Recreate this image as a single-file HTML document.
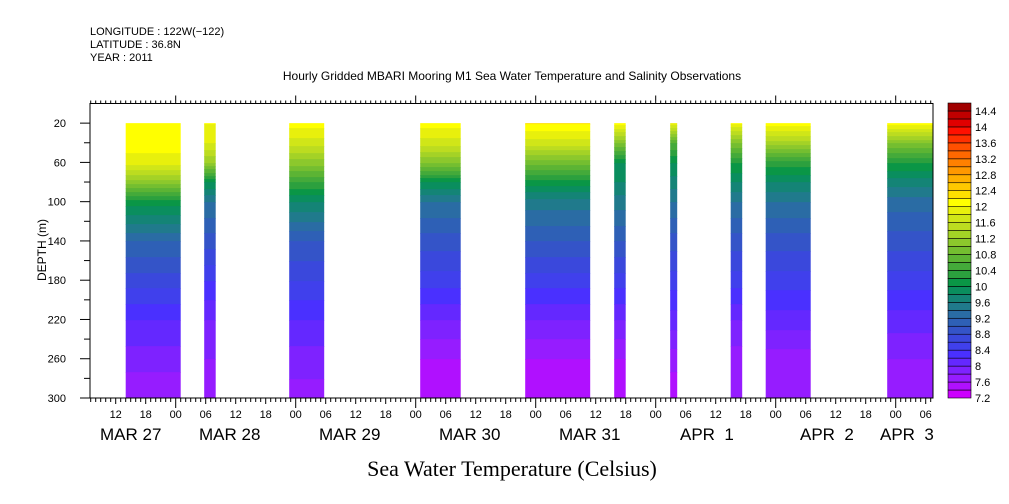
<!DOCTYPE html>
<html><head><meta charset="utf-8"><style>
body{margin:0;background:#fff;width:1009px;height:504px;overflow:hidden}
svg{display:block}
text{font-family:"Liberation Sans",sans-serif;fill:#000}
</style></head><body>
<svg id="chart" width="1009" height="504" xmlns="http://www.w3.org/2000/svg">
<text x="90" y="35" font-size="11">LONGITUDE : 122W(−122)</text>
<text x="90" y="48" font-size="11">LATITUDE : 36.8N</text>
<text x="90" y="61" font-size="11">YEAR : 2011</text>
<text x="512" y="80" font-size="12" text-anchor="middle">Hourly Gridded MBARI Mooring M1 Sea Water Temperature and Salinity Observations</text>
<text transform="translate(46,250) rotate(-90)" font-size="12" text-anchor="middle">DEPTH (m)</text>
<text x="512" y="476" font-size="22" text-anchor="middle" style="font-family:'Liberation Serif',serif">Sea Water Temperature (Celsius)</text>
<g id="plot"></g>
<g id="axes"></g>
<g id="cbar"></g>
</svg>
<script>
const depths=[20,40,60,80,100,140,180,220,260,300];
const blockStart=[14,29.7,46.7,72.9,93.9,111.7,122.9,135,142,166.3];
const blockEnd=[25,32,53.7,81,106.9,114,124.3,137.3,151,175.5];
const profiles=[
[12.1,12.1,11.9,11.1,10.1,9.2,8.7,8.2,7.9,7.6],
[12.0,11.8,11.2,10.0,9.4,8.9,8.4,8.0,7.8,7.6],
[12.1,11.7,11.1,10.4,9.8,9.0,8.6,8.2,7.9,7.7],
[12.1,11.7,11.0,10.0,9.4,8.9,8.5,8.0,7.6,7.4],
[12.2,11.7,10.9,10.1,9.5,9.0,8.5,8.0,7.6,7.4],
[12.1,11.0,10.0,9.8,9.5,9.0,8.5,8.0,7.6,7.4],
[11.9,10.6,10.0,9.7,9.4,8.9,8.5,8.1,7.7,7.4],
[12.0,11.0,10.2,9.8,9.4,8.9,8.5,8.0,7.7,7.6],
[12.1,11.3,10.3,9.8,9.4,8.9,8.5,8.1,7.7,7.6],
[12.1,11.0,10.2,9.7,9.3,8.9,8.5,8.1,7.8,7.6]];
const colors=["#cc00ff","#b010ff","#961cff","#7e22ff","#6428ff","#4a30ff","#4040ec","#3a48dc","#3454c8","#2e60b6","#2a6ca4","#207a8c","#148476","#0a8e5e","#0a9646","#2ca03e","#44aa3a","#5cb434","#74be30","#8cc82c","#a4d226","#bcdc20","#d0e618","#e8f00c","#ffff00","#ffe000","#ffc800","#ffb000","#ff9800","#ff8000","#ff6800","#ff5000","#ff3000","#ff1000","#e00000","#c00000","#a00000"];
const cbLabels=["7.2","7.6","8","8.4","8.8","9.2","9.6","10","10.4","10.8","11.2","11.6","12","12.4","12.8","13.2","13.6","14","14.4"];
const depthTicks=[20,60,100,140,180,220,260,300];
const dateLabels=["MAR 27","MAR 28","MAR 29","MAR 30","MAR 31","APR  1","APR  2","APR  3"];
const dateX=[100,199,319,439,559,680,800,880];

const L=90,R=933,T=103.5,B=398;
const xs=h=>55.7+5*h;
const ys=d=>T+(d/300)*(B-T);
const NS="http://www.w3.org/2000/svg";
function mk(tag,at,par){const e=document.createElementNS(NS,tag);for(const k in at)e.setAttribute(k,at[k]);par.appendChild(e);return e;}
const plot=document.getElementById('plot'),axes=document.getElementById('axes'),cbar=document.getElementById('cbar');
function interp(p,d){for(let i=0;i<depths.length-1;i++){if(d<=depths[i+1]){const f=(d-depths[i])/(depths[i+1]-depths[i]);return p[i]+f*(p[i+1]-p[i]);}}return p[p.length-1];}
function colorFor(t){let k=Math.floor((t-7.2)/0.2+1e-9);k=Math.max(0,Math.min(colors.length-1,k));return colors[k];}
profiles.forEach((p,bi)=>{
  const x0=xs(blockStart[bi]),x1=xs(blockEnd[bi]);
  let cur=null,sy=ys(20);
  for(let py=ys(20);py<=B+0.5;py+=1){
    const d=Math.min(300,(py-T)/(B-T)*300);const c=colorFor(interp(p,d));
    if(c!==cur){if(cur){const r=mk('rect',{x:x0,y:sy,width:x1-x0,height:py-sy+0.5,fill:cur},plot);}cur=c;sy=py;}
  }
  const r=mk('rect',{x:x0,y:sy,width:x1-x0,height:B-sy,fill:cur},plot);
  
  
});
mk('rect',{x:L,y:T,width:R-L,height:B-T,fill:'none',stroke:'#000','stroke-width':1},axes);
for(let d=20;d<=300;d+=20){const y=ys(d);mk('line',{x1:d%40===20?80:84,x2:L,y1:y,y2:y,stroke:'#000'},axes);}
depthTicks.forEach(d=>{const t=mk('text',{x:66,y:ys(d)+4,'font-size':11,'text-anchor':'end'},axes);t.textContent=d;

});
for(let h=7;h<=175;h++){const x=xs(h);const day=h%24===0,six=h%6===0;
 mk('line',{x1:x,x2:x,y1:T,y2:T-(day?8:3),stroke:'#000'},axes);
 mk('line',{x1:x,x2:x,y1:B,y2:B+(day?10:(six?6:4)),stroke:'#000'},axes);
 if(six&&h>=12){const t=mk('text',{x:x,y:418,'font-size':11,'text-anchor':'middle'},axes);t.textContent=String(h%24).padStart(2,'0');
 
 }}
dateLabels.forEach((s,i)=>{const t=mk('text',{x:dateX[i],y:440,'font-size':17},axes);t.setAttribute('style','white-space:pre');t.textContent=s;

});
const cx=948,cw=23,bh=(398-103)/colors.length;
colors.forEach((c,i)=>{const r=mk('rect',{x:cx,y:398-(i+1)*bh,width:cw,height:bh,fill:c,stroke:'#000','stroke-width':0.6},cbar);

});
cbLabels.forEach((s,i)=>{const y=398-i*2*bh;const t=mk('text',{x:975,y:y+4,'font-size':11},cbar);t.textContent=s;

});
</script>
</body></html>
